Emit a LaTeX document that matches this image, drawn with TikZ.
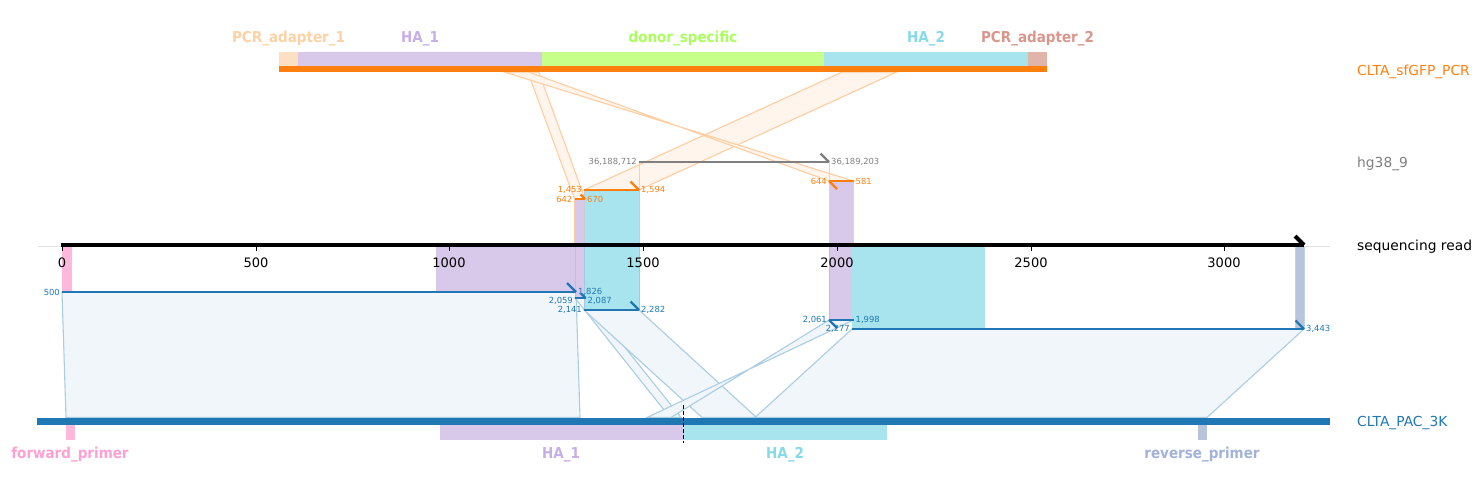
\documentclass[tikz,border=0pt]{standalone}
\usepackage{fontspec}
\setmainfont{DejaVu Sans}
\newfontfamily\featfont[FakeStretch=0.9]{DejaVu Sans Bold}
\usetikzlibrary{positioning}

\definecolor{pcrorange}{HTML}{FF7F0E}
\definecolor{hggray}{HTML}{7F7F7F}
\definecolor{pacblue}{HTML}{1F77B4}
\definecolor{haone}{HTML}{D8C8EA}
\definecolor{hatwo}{HTML}{A8E4EE}
\definecolor{donor}{HTML}{C6FF8A}
\definecolor{adaptone}{HTML}{FCE0C4}
\definecolor{adapttwo}{HTML}{E0B4A8}
\definecolor{fwdprimer}{HTML}{FFB8DC}
\definecolor{revprimer}{HTML}{B8C4DC}
\definecolor{haonelab}{HTML}{C6AEE6}
\definecolor{hatwolab}{HTML}{86DAE8}
\definecolor{donorlab}{HTML}{AAFF5C}
\definecolor{adaptonelab}{HTML}{FCD2A4}
\definecolor{adapttwolab}{HTML}{D8968C}
\definecolor{fwdlab}{HTML}{FFA0D2}
\definecolor{revlab}{HTML}{A2B2D8}
\definecolor{bandor}{HTML}{FFF5EC}
\definecolor{bandorline}{HTML}{FFCDA2}
\definecolor{bandbl}{HTML}{F0F6FA}
\definecolor{bandblline}{HTML}{AACDE4}

\begin{document}
\begin{tikzpicture}[x=1pt, y=-1pt,
    tracklab/.style={anchor=west, inner sep=0, font=\fontsize{13.8}{16}\selectfont},
    featlab/.style={inner sep=0, font=\featfont\fontsize{15}{17}\selectfont},
    ticklab/.style={inner sep=0, font=\fontsize{13}{15}\selectfont},
    numl/.style={anchor=east, inner sep=2pt, font=\fontsize{8.4}{9}\selectfont},
    numr/.style={anchor=west, inner sep=2pt, font=\fontsize{8.4}{9}\selectfont},
    orband/.style={fill=bandor, draw=bandorline, line width=1.1},
    blband/.style={fill=bandbl, draw=bandblline, line width=1.1},
    segline/.style={line width=2.5},
    hookline/.style={line width=2.2},
]
    \useasboundingbox (0,0) rectangle (1483,492);

    % coordinates %
      \coordinate (pcrA1) at (527.8,72);   \coordinate (pcrA2) at (538.7,72);
      \coordinate (pcrB1) at (842.2,72);   \coordinate (pcrB2) at (896.8,72);
      \coordinate (pcrC1) at (504.2,72);   \coordinate (pcrC2) at (528.6,72);
      \coordinate (rdA1) at (574.5,199);   \coordinate (rdA2) at (585,199);
      \coordinate (rdB1) at (584,190);     \coordinate (rdB2) at (639,190);
      \coordinate (rdC1) at (829,181);     \coordinate (rdC2) at (853.5,181);
      \coordinate (hg1) at (639,162);      \coordinate (hg2) at (829,162);
      \coordinate (rdD1) at (62,292);      \coordinate (rdD2) at (576,292);
      \coordinate (rdE1) at (575,298);     \coordinate (rdE2) at (585.5,298);
      \coordinate (rdF1) at (584,310);     \coordinate (rdF2) at (639,310);
      \coordinate (rdG1) at (829,320);     \coordinate (rdG2) at (853.5,320);
      \coordinate (rdH1) at (852,329);     \coordinate (rdH2) at (1304,329);
      \coordinate (pacD1) at (66,417.5);   \coordinate (pacD2) at (580,417.5);
      \coordinate (pacE1) at (670,417.5);  \coordinate (pacE2) at (681,417.5);
      \coordinate (pacF1) at (702,417.5);  \coordinate (pacF2) at (756.5,417.5);
      \coordinate (pacG1) at (647,417.5);  \coordinate (pacG2) at (671,417.5);
      \coordinate (pacH1) at (755,417.5);  \coordinate (pacH2) at (1207,417.5);

    % bands %
      \draw[orband] (pcrA1) -- (pcrA2) -- (rdA2) -- (rdA1) -- cycle;
      \draw[orband] (pcrB1) -- (pcrB2) -- (rdB2) -- (rdB1) -- cycle;
      \draw[orband] (pcrC2) -- (pcrC1) -- (rdC2) -- (rdC1) -- cycle;
      \draw[blband] (rdD1) -- (rdD2) -- (pacD2) -- (pacD1) -- cycle;
      \draw[blband] (rdE1) -- (rdE2) -- (pacE2) -- (pacE1) -- cycle;
      \draw[blband] (rdF1) -- (rdF2) -- (pacF2) -- (pacF1) -- cycle;
      \draw[blband] (rdG1) -- (rdG2) -- (pacG1) -- (pacG2) -- cycle;
      \draw[blband] (rdH1) -- (rdH2) -- (pacH2) -- (pacH1) -- cycle;

    % top track %
      \fill[adaptone] (279,52) rectangle (298,66);
      \fill[haone] (298,52) rectangle (542,66);
      \fill[donor] (542,52) rectangle (824,66);
      \fill[hatwo] (824,52) rectangle (1028,66);
      \fill[adapttwo] (1028,52) rectangle (1047,66);
      \draw[pcrorange, line width=6] (279,69.5) -- (1047,69.5);
      \node[featlab, adaptonelab] (adapt1) at (288.5,39) {PCR\_adapter\_1};
      \node[featlab, haonelab] (hatop1) at (420,39) {HA\_1};
      \node[featlab, donorlab] (donorspec) at (683,39) {donor\_specific};
      \node[featlab, hatwolab] (hatop2) at (926,39) {HA\_2};
      \node[featlab, adapttwolab] (adapt2) at (1037.5,39) {PCR\_adapter\_2};

    % read features %
      \draw[hggray!30, line width=0.8] (hg1) -- (639,245);
      \draw[hggray!30, line width=0.8] (hg2) -- (829,245);
      \filldraw[fill=haone, draw=pcrorange!40, line width=0.7] (rdA1) rectangle (585,245);
      \filldraw[fill=hatwo, draw=hggray!40, line width=0.7] (rdB1) rectangle (639,245);
      \filldraw[fill=haone, draw=pcrorange!40, line width=0.7] (rdC1) rectangle (853.5,245);
      \fill[fwdprimer] (62,246) rectangle (72,292);
      \fill[haone] (436,246) rectangle (576,292);
      \filldraw[fill=haone, draw=pacblue!40, line width=0.7] (575,246) rectangle (rdE2);
      \filldraw[fill=hatwo, draw=pacblue!40, line width=0.7] (584,246) rectangle (rdF2);
      \filldraw[fill=haone, draw=pacblue!40, line width=0.7] (829,246) rectangle (rdG2);
      \fill[hatwo] (852,246) rectangle (985,329);
      \filldraw[fill=revprimer, draw=pacblue!30, line width=0.7] (1295,246) rectangle (rdH2);

    % read axis %
      \draw[black!12, line width=0.8] (38,246) -- (1330,246);
      \draw[black, line width=4] (61,245) -- (1304,245);
      \draw[black, line width=4] (1295,236) -- (1304,245);
      \foreach \t/\x in {0/62, 500/256, 1000/449, 1500/643, 2000/837, 2500/1031, 3000/1224} {
        \draw[black, line width=0.8] (\x,245) -- (\x,251);
        \node[ticklab] (tick\t) at (\x,263) {\t};
      }

    % alignments %
      \draw[segline, hggray] (hg1) -- (hg2);
      \draw[hookline, hggray] (hg2) -- ++(-8.5,-8.5);
      \node[numl, hggray] (hgl) at (hg1) {36,188,712};
      \node[numr, hggray] (hgr) at (hg2) {36,189,203};

      \draw[segline, pcrorange] (rdA1) -- (rdA2);
      \draw[hookline, pcrorange] (rdA2) -- ++(-4.5,-4.5);
      \node[numl, pcrorange] (ol642) at (rdA1) {642};
      \node[numr, pcrorange] (or670) at (rdA2) {670};
      \draw[segline, pcrorange] (rdB1) -- (rdB2);
      \draw[hookline, pcrorange] (rdB2) -- ++(-8.5,-8.5);
      \node[numl, pcrorange] (ol1453) at (rdB1) {1,453};
      \node[numr, pcrorange] (or1594) at (rdB2) {1,594};
      \draw[segline, pcrorange] (rdC1) -- (rdC2);
      \draw[hookline, pcrorange] (rdC1) -- ++(8,8);
      \node[numl, pcrorange] (ol644) at (rdC1) {644};
      \node[numr, pcrorange] (or581) at (rdC2) {581};

      \draw[segline, pacblue] (rdD1) -- (rdD2);
      \draw[hookline, pacblue] (rdD2) -- ++(-9,-9);
      \node[numl, pacblue] (bl500) at (rdD1) {500};
      \node[numr, pacblue] (br1826) at (rdD2) {1,826};
      \draw[segline, pacblue] (rdE1) -- (rdE2);
      \draw[hookline, pacblue] (rdE2) -- ++(-4.5,-4.5);
      \node[numl, pacblue, yshift=-3pt] (bl2059) at (rdE1) {2,059};
      \node[numr, pacblue, yshift=-3pt] (br2087) at (rdE2) {2,087};
      \draw[segline, pacblue] (rdF1) -- (rdF2);
      \draw[hookline, pacblue] (rdF2) -- ++(-8.5,-8.5);
      \node[numl, pacblue] (bl2141) at (rdF1) {2,141};
      \node[numr, pacblue] (br2282) at (rdF2) {2,282};
      \draw[segline, pacblue] (rdG1) -- (rdG2);
      \draw[hookline, pacblue] (rdG1) -- ++(8,8);
      \node[numl, pacblue] (bl2061) at (rdG1) {2,061};
      \node[numr, pacblue] (br1998) at (rdG2) {1,998};
      \draw[segline, pacblue] (rdH1) -- (rdH2);
      \draw[hookline, pacblue] (rdH2) -- ++(-8.5,-8.5);
      \node[numl, pacblue] (bl2277) at (rdH1) {2,277};
      \node[numr, pacblue] (br3443) at (rdH2) {3,443};

    % bottom track %
      \draw[pacblue, line width=7] (37,421) -- (1330,421);
      \fill[fwdprimer] (66,424.5) rectangle (75,440);
      \fill[haone] (440,424.5) rectangle (683,440);
      \fill[hatwo] (683,424.5) rectangle (887,440);
      \fill[revprimer] (1198,424.5) rectangle (1207,440);
      \draw[black, line width=1, dash pattern=on 4pt off 2pt] (683,405) -- (683,443);
      \node[featlab, fwdlab] (fwdprim) at (70,455) {forward\_primer};
      \node[featlab, haonelab] (habot1) at (561,455) {HA\_1};
      \node[featlab, hatwolab] (habot2) at (785,455) {HA\_2};
      \node[featlab, revlab] (revprim) at (1202,455) {reverse\_primer};

    % track names %
      \node[tracklab, pcrorange] (pcrname) at (1357,72) {CLTA\_sfGFP\_PCR};
      \node[tracklab, hggray] (hgname) at (1357,164) {hg38\_9};
      \node[tracklab, black] (readname) at (1357,247) {sequencing read};
      \node[tracklab, pacblue] (pacname) at (1357,423) {CLTA\_PAC\_3K};
\end{tikzpicture}
\end{document}
